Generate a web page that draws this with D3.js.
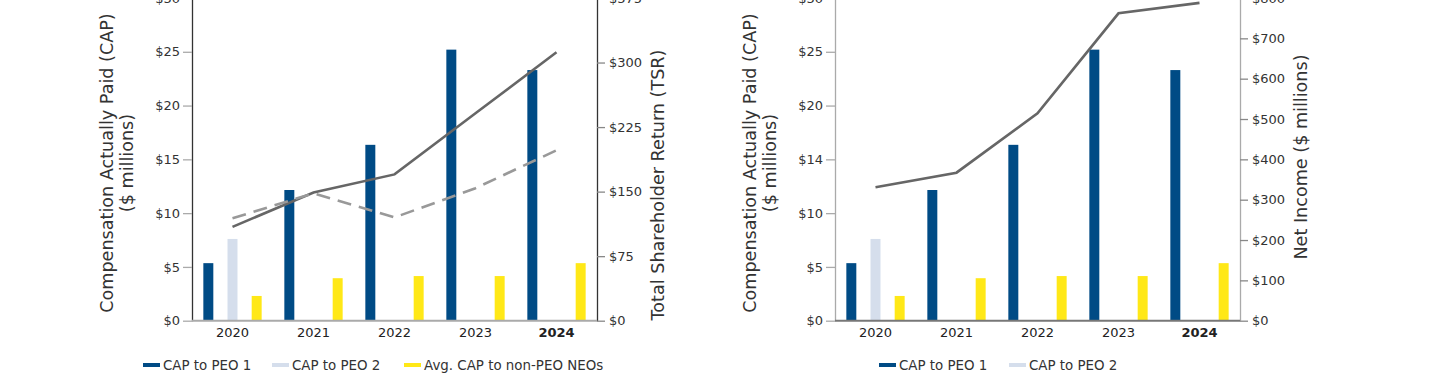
<!DOCTYPE html>
<html>
<head>
<meta charset="utf-8">
<script src="https://cdn.jsdelivr.net/npm/d3@7"></script>
<style>
  html, body { margin: 0; padding: 0; background: #fff; }
  svg { display: block; font-family: "DejaVu Sans", sans-serif; }
</style>
</head>
<body>
<svg id="chart" width="1440" height="375"></svg>
<script>
// data
const years = ["2020", "2021", "2022", "2023", "2024"];
const capPeo1 = [5.35, 12.15, 16.35, 25.2, 23.3];
const capPeo2 = [7.6, null, null, null, null];
const capNonPeo = [2.3, 3.95, 4.15, 4.15, 5.35];
const tsrCompany = [109, 149, 170, 241, 312];
const tsrPeer = [119, 148, 120, 154, 198];
const netIncome = [331, 367, 514, 762, 788];

const capTicks = [0, 5, 10, 15, 20, 25, 30];
const capLabelsA = ["$0", "$5", "$10", "$15", "$20", "$25", "$30"];
const capLabelsB = ["$0", "$5", "$10", "$14", "$20", "$25", "$30"];
const tsrTicks = [0, 75, 150, 225, 300, 375];
const niTicks = [0, 100, 200, 300, 400, 500, 600, 700, 800];

const seriesKeys = ["peo1", "peo2", "non"];
const seriesColor = {peo1: "#004b85", peo2: "#d5deec", non: "#ffe817"};

const svg = d3.select("#chart");

function drawChart(opt) {
  const g = svg.append("g");

  // scales
  const x = d3.scaleBand().domain(years).range([opt.x0, opt.x0 + 405]).padding(0);
  const gw = x.bandwidth() * 0.72;
  const xs = d3.scaleBand().domain(seriesKeys).range([-gw / 2, gw / 2]).paddingInner(0.587);
  const y = d3.scaleLinear().domain([0, 30]).range([320.7, -2]);
  const y2 = d3.scaleLinear().domain([0, opt.y2max]).range([320.7, -2]);

  // bars
  const rows = years.map((yr, i) => ({year: yr, peo1: capPeo1[i], peo2: capPeo2[i], non: capNonPeo[i]}));
  seriesKeys.forEach(k => {
    g.append("g").selectAll("rect")
      .data(rows.filter(d => d[k] != null))
      .join("rect")
      .attr("x", d => x(d.year) + x.bandwidth() / 2 + xs(k))
      .attr("y", d => y(d[k]))
      .attr("width", xs.bandwidth())
      .attr("height", d => y(0) - y(d[k]))
      .attr("fill", seriesColor[k]);
  });

  // left axis
  const la = g.append("g")
    .attr("transform", `translate(${opt.x0},0)`)
    .call(d3.axisLeft(y).tickValues(capTicks).tickFormat((d, i) => opt.capLabels[i])
      .tickSize(9).tickSizeOuter(0).tickPadding(3));
  la.select(".domain").attr("stroke", opt.axisColor).attr("stroke-width", 1.3);
  la.selectAll(".tick line").attr("stroke", "#aaa").attr("stroke-width", 1.3);
  la.selectAll(".tick text").attr("font-size", 13).attr("fill", "#333").attr("font-family", "DejaVu Sans");

  // right axis
  const ra = g.append("g")
    .attr("transform", `translate(${opt.x0 + 405},0)`)
    .call(d3.axisRight(y2).tickValues(opt.y2ticks).tickFormat(d => "$" + d)
      .tickSize(8).tickSizeOuter(0).tickPadding(4));
  ra.select(".domain").attr("stroke", opt.axisColor).attr("stroke-width", 1.3);
  ra.selectAll(".tick line").attr("stroke", "#888").attr("stroke-width", 1.3);
  ra.selectAll(".tick text").attr("font-size", 13).attr("fill", "#333").attr("font-family", "DejaVu Sans");

  // baseline
  g.append("line")
    .attr("x1", opt.x0).attr("x2", opt.x0 + 405)
    .attr("y1", y(0)).attr("y2", y(0))
    .attr("stroke", opt.baseColor).attr("stroke-width", 2);

  // year labels
  g.append("g").selectAll("text")
    .data(years)
    .join("text")
    .attr("x", d => x(d) + x.bandwidth() / 2)
    .attr("y", 337)
    .attr("text-anchor", "middle")
    .attr("font-size", 13)
    .attr("font-weight", (d, i) => i === years.length - 1 ? "bold" : "normal")
    .attr("fill", "#222")
    .text(d => d);

  // lines
  const line = d3.line()
    .x((d, i) => x(years[i]) + x.bandwidth() / 2)
    .y(d => y2(d));
  opt.lines.forEach(l => {
    g.append("path")
      .datum(l.values)
      .attr("d", line)
      .attr("fill", "none")
      .attr("stroke", l.color)
      .attr("stroke-width", 2.6)
      .attr("stroke-dasharray", l.dash || null);
  });

  // axis titles
  const lt = g.append("text")
    .attr("transform", `translate(${opt.x0 - 79},163) rotate(-90)`)
    .attr("text-anchor", "middle")
    .attr("font-size", 17.6)
    .attr("fill", "#333");
  lt.append("tspan").attr("x", 0).attr("dy", 0).text("Compensation Actually Paid (CAP)");
  lt.append("tspan").attr("x", 0).attr("dy", 20).text("($ millions)");

  g.append("text")
    .attr("transform", `translate(${opt.x0 + 405 + opt.rtDx},${opt.rtY}) rotate(-90)`)
    .attr("text-anchor", "middle")
    .attr("font-size", 17.6)
    .attr("fill", "#333")
    .text(opt.rightTitle);

  // legend
  const lg = g.append("g").attr("transform", "translate(0,365)");
  opt.legend.forEach(it => {
    lg.append("line")
      .attr("x1", it.x).attr("x2", it.x + 17)
      .attr("y1", 0).attr("y2", 0)
      .attr("stroke", seriesColor[it.key]).attr("stroke-width", 4);
    lg.append("text")
      .attr("x", it.x + 20).attr("y", 0)
      .attr("dy", "0.35em")
      .attr("font-size", 13.4)
      .attr("fill", "#333")
      .text(it.label);
  });
}

drawChart({
  x0: 192,
  y2max: 375,
  y2ticks: tsrTicks,
  capLabels: capLabelsA,
  axisColor: "#333",
  baseColor: "#aaa",
  rightTitle: "Total Shareholder Return (TSR)",
  rtDx: 67, rtY: 185,
  lines: [
    {values: tsrCompany, color: "#666"},
    {values: tsrPeer, color: "#999", dash: "14,8"}
  ],
  legend: [
    {key: "peo1", label: "CAP to PEO 1", x: 143},
    {key: "peo2", label: "CAP to PEO 2", x: 272},
    {key: "non", label: "Avg. CAP to non-PEO NEOs", x: 404}
  ]
});

drawChart({
  x0: 835,
  y2max: 800,
  y2ticks: niTicks,
  capLabels: capLabelsB,
  axisColor: "#aaa",
  baseColor: "#777",
  rightTitle: "Net Income ($ millions)",
  rtDx: 67, rtY: 157,
  lines: [
    {values: netIncome, color: "#666"}
  ],
  legend: [
    {key: "peo1", label: "CAP to PEO 1", x: 879},
    {key: "peo2", label: "CAP to PEO 2", x: 1009}
  ]
});
</script>
</body>
</html>
